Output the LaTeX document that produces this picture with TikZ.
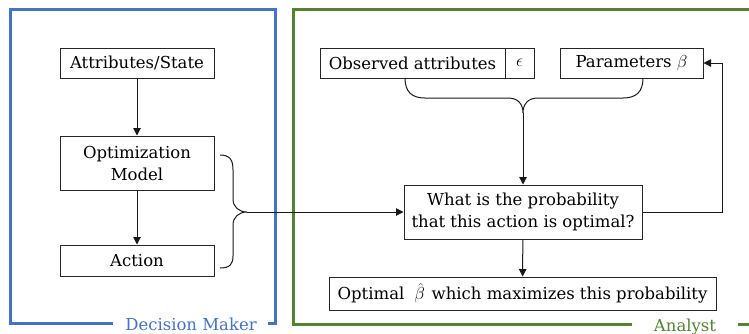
\documentclass[tikz,border=0pt]{standalone}
\usepackage{fontspec}
\setmainfont{DejaVu Serif}
\usetikzlibrary{arrows.meta}
\definecolor{dmblue}{RGB}{68,114,196}
\definecolor{angreen}{RGB}{84,130,53}
\tikzset{
  box/.style={draw=black!85, line width=1pt, inner sep=0pt, align=center,
    font=\fontsize{16.5}{22}\selectfont},
  conn/.style={line width=1pt, black!90},
  arr/.style={conn, -{Triangle[length=7.5pt,width=7.5pt]}},
  frame/.style={line width=3pt},
  framelabel/.style={anchor=base, inner sep=0pt, font=\fontsize{16.5}{20}\selectfont}
}
\begin{document}
\begin{tikzpicture}[x=1pt,y=-1pt]
\useasboundingbox (0,0) rectangle (749,333);

% Decision maker frame
\draw[frame, dmblue] (113,323) -- (10,323) -- (10,9) -- (275,9) -- (275,323) -- (268,323);
\node[framelabel, text=dmblue] (dmlabel) at (191,330) {Decision Maker};

% Analyst frame
\draw[frame, angreen] (632,324) -- (293,324) -- (293,9) -- (752,9);
\draw[frame, angreen] (738,324) -- (752,324);
\node[framelabel, text=angreen] (anlabel) at (685,331) {Analyst};

% Decision maker boxes
\node[box, minimum width=154pt, minimum height=30pt] (attr) at (137,63) {Attributes/State};
\node[box, minimum width=154pt, minimum height=54pt] (optm) at (137,163) {Optimization\\Model};
\node[box, minimum width=154pt, minimum height=31pt] (act) at (137,260.5) {Action};
\draw[arr] (attr) -- (optm);
\draw[arr] (optm) -- (act);

% Analyst boxes
\node[box, minimum width=185pt, minimum height=30pt] (obs) at (412.5,63) {Observed attributes};
\node[box, minimum width=29pt, minimum height=30pt] (eps) at (519.5,63) {$\epsilon$};
\node[box, minimum width=143pt, minimum height=30pt] (param) at (631.5,63) {Parameters $\beta$};
\node[box, minimum width=238pt, minimum height=54pt] (what) at (523,212) {What is the probability\\that this action is optimal?};
\node[box, minimum width=387pt, minimum height=33pt] (opt) at (522.5,293.5) {Optimal\hspace{0.6em}$\hat{\beta}$\hspace{0.1em} which maximizes this probability};

% Brace joining the model and the action
\coordinate (ltip) at (247,212);
\draw[conn] (220,155) .. controls (230,155) and (233,160) .. (233,170) -- (233,199)
  .. controls (233,207) and (239,212) .. (ltip)
  .. controls (239,212) and (233,217) .. (233,225) -- (233,256)
  .. controls (233,264) and (230,268) .. (220,268);
\draw[arr] (ltip) -- (what.west);

% Brace joining attributes and parameters
\coordinate (ttip) at (523,113);
\draw[conn] (405,78) .. controls (405,92) and (412,98) .. (425,98) -- (508,98)
  .. controls (518,98) and (523,104) .. (ttip)
  .. controls (523,104) and (528,98) .. (538,98) -- (623,98)
  .. controls (636,98) and (643,92) .. (643,78);
\draw[arr] (ttip) -- (what.north);

% Result and feedback loop
\draw[arr] (what) -- (opt);
\coordinate (fb) at (722,63);
\draw[arr] (what.east) -| (fb) -- (param.east);
\end{tikzpicture}
\end{document}
